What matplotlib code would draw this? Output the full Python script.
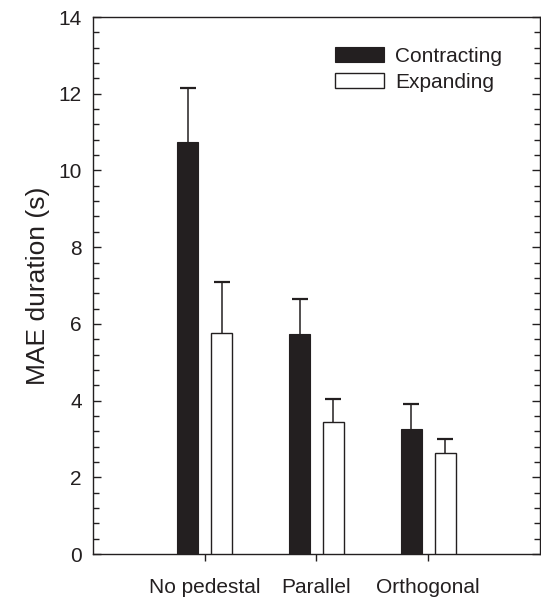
import numpy as np
import matplotlib
matplotlib.use("Agg")
import matplotlib.pyplot as plt
from matplotlib.ticker import MultipleLocator

# data
conditions = ["No pedestal", "Parallel", "Orthogonal"]
contracting = [10.75, 5.73, 3.25]
contracting_err = [1.40, 0.92, 0.67]
expanding = [5.77, 3.44, 2.64]
expanding_err = [1.33, 0.59, 0.36]

ink = "#231f20"
plt.rcParams["font.family"] = ["Liberation Sans", "DejaVu Sans"]
plt.rcParams["text.color"] = ink
plt.rcParams["axes.labelcolor"] = ink
plt.rcParams["xtick.color"] = ink
plt.rcParams["ytick.color"] = ink

fig = plt.figure(figsize=(5.41, 5.97), dpi=100)
ax = fig.add_axes([0.172, 0.072, 0.826, 0.8995])

x = np.arange(1, len(conditions) + 1)
w = 0.19
off = 0.152

# bars drawn over the error bars so only the upper half shows
ax.bar(x - off, contracting, w, color=ink, edgecolor=ink, linewidth=0.8,
       label="Contracting", zorder=3)
ax.bar(x + off, expanding, w, color="white", edgecolor=ink, linewidth=1.0,
       label="Expanding", zorder=3)
ax.errorbar(x - off, contracting, yerr=contracting_err, fmt="none",
            ecolor=ink, elinewidth=1.1, capsize=6, capthick=1.6, zorder=2)
ax.errorbar(x + off, expanding, yerr=expanding_err, fmt="none",
            ecolor=ink, elinewidth=1.1, capsize=6, capthick=1.6, zorder=2)

ax.set_xlim(0, 4)
ax.set_ylim(0, 14)
ax.set_xticks(x)
ax.set_xticklabels(conditions, fontsize=15)
ax.yaxis.set_major_locator(MultipleLocator(2))
ax.yaxis.set_minor_locator(MultipleLocator(0.4))
ax.tick_params(axis="y", which="both", direction="in", left=True, right=True,
               labelsize=15, pad=8)
ax.tick_params(axis="y", which="major", length=6, width=1)
ax.tick_params(axis="y", which="minor", length=4.3, width=1)
ax.tick_params(axis="x", direction="out", length=5, width=1, pad=12, top=False)
ax.set_ylabel("MAE duration (s)", fontsize=19, labelpad=6)

for s in ax.spines.values():
    s.set_color(ink)
    s.set_linewidth(1.0)

ax.legend(loc="upper left", bbox_to_anchor=(0.541, 0.945), frameon=False,
          fontsize=15, handlelength=2.35, handleheight=0.77,
          handletextpad=0.55, labelspacing=0.35, borderpad=0, borderaxespad=0)

fig.savefig("out.png", dpi=100)
